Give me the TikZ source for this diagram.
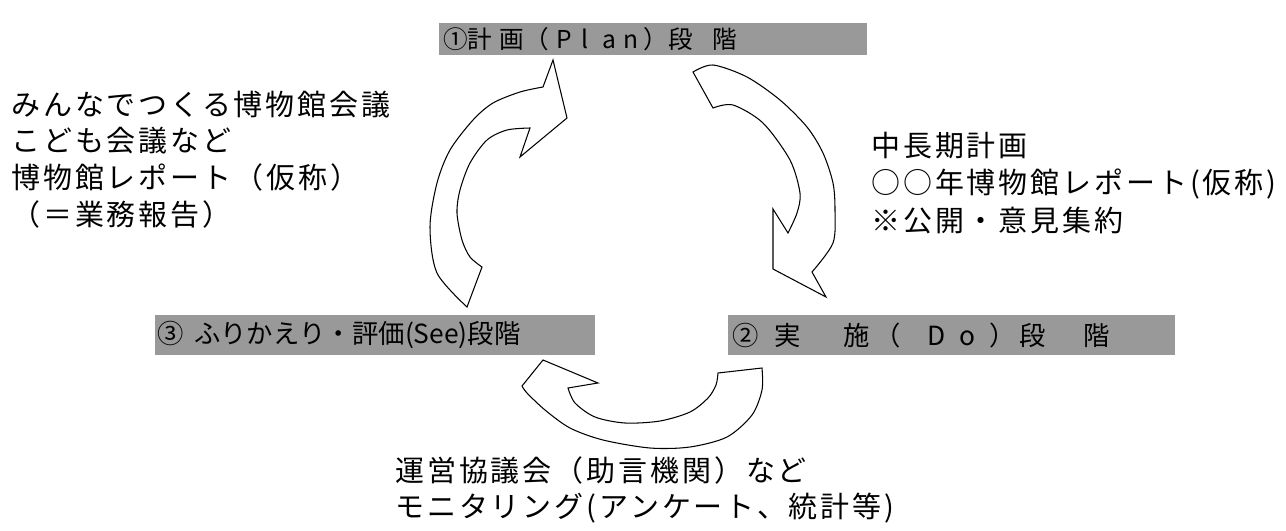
\documentclass[tikz,border=0pt]{standalone}
\usepackage{fontspec}
\usetikzlibrary{positioning}
\newfontfamily\jp{Noto Sans CJK JP}
\newfontfamily\jpwide[LetterSpace=10]{Noto Sans CJK JP}
\definecolor{stagegray}{gray}{0.6}

\begin{document}
\begin{tikzpicture}[x=0.02cm,y=-0.02cm,
  stage/.style={fill=stagegray,anchor=west,inner xsep=0pt,inner ysep=0pt,align=left},
  note/.style={anchor=base west,inner sep=0pt,font=\jpwide\fontsize{16.5pt}{20pt}\selectfont},
  blockarrow/.style={draw=black,fill=white,line width=0.6pt,line join=miter}]
\useasboundingbox (0,0) rectangle (1286,531);

        \node[stage,text width=8.56cm,minimum height=0.64cm,font=\jp\fontsize{14pt}{16pt}\selectfont]  (P) at (439,39)
            {\hspace*{0.08cm}①計\hspace{0.3em}画（\hspace{0.3em}P\hspace{0.4em}l\hspace{0.55em}a\hspace{0.3em}n\hspace{0.2em}）段\hspace{0.8em}階};
        \node[stage,text width=8.94cm,minimum height=0.8cm,font=\jp\fontsize{15pt}{18pt}\selectfont]  (D) at (728,335)
            {\hspace*{0.08cm}②\hspace{0.6em}実\hspace{1.6em}施\hspace{0.2em}（\hspace{1em}D\hspace{0.55em}o\hspace{0.5em}）\hspace{0.15em}段\hspace{1.45em}階};
        \node[stage,text width=8.8cm,minimum height=0.8cm,font=\jp\fontsize{15pt}{18pt}\selectfont]   (S) at (155,335)
            {\hspace*{0.04cm}③\hspace{0.4em}ふりかえり・評価(See)段階};

        % notes
        \node[note] (l1) at (11,115) {みんなでつくる博物館会議};
        \node[note,below=21pt of l1.base west,anchor=base west] (l2) {こども会議など};
        \node[note,below=21pt of l2.base west,anchor=base west] (l3) {博物館レポート（仮称）};
        \node[note,below=21pt of l3.base west,anchor=base west] (l4) {（＝業務報告）};

        \node[note] (r1) at (871,156) {中長期計画};
        \node[note,below=21.6pt of r1.base west,anchor=base west] (r2) {○○年博物館レポート(仮称)};
        \node[note,below=21.6pt of r2.base west,anchor=base west] (r3) {※公開・意見集約};

        \node[note] (b1) at (395,481) {運営協議会（助言機関）など};
        \node[note,below=21pt of b1.base west,anchor=base west] (b2) {モニタリング(アンケート、統計等)};

        % see -> plan
        \draw[blockarrow] plot[smooth] coordinates {(467,307) (437,273) (430,227) (437,183) (450,150) (473,120) (493,103) (520,92) (543,87)}
            -- (553,60) -- (567,118) -- (520,157) -- (530,128)
            -- plot[smooth] coordinates {(530,128) (507,130) (487,140) (470,163) (460,190) (457,213) (462,240) (470,257) (482,267)}
            -- cycle;
        % plan -> do
        \draw[blockarrow] plot[smooth] coordinates {(693,72) (713,65) (747,77) (780,100) (807,127) (823,153) (833,183) (835,210) (833,243) (812,272)}
            -- (826,297) -- (773,269) -- (773,209) -- (788,233)
            -- plot[smooth] coordinates {(788,233) (797,213) (800,193) (790,160) (763,123) (733,105) (713,108)}
            -- cycle;
        % do -> see
        \draw[blockarrow] plot[smooth] coordinates {(762,368) (762,390) (752,415) (727,437) (690,447) (650,448) (603,440) (570,428) (545,410) (527,393) (522,386)}
            -- (543,360) -- (598,383) -- (568,388)
            -- plot[smooth] coordinates {(568,388) (575,403) (595,417) (625,423) (660,421) (690,412) (708,398) (716,385) (718,373)}
            -- cycle;

\end{tikzpicture}
\end{document}
